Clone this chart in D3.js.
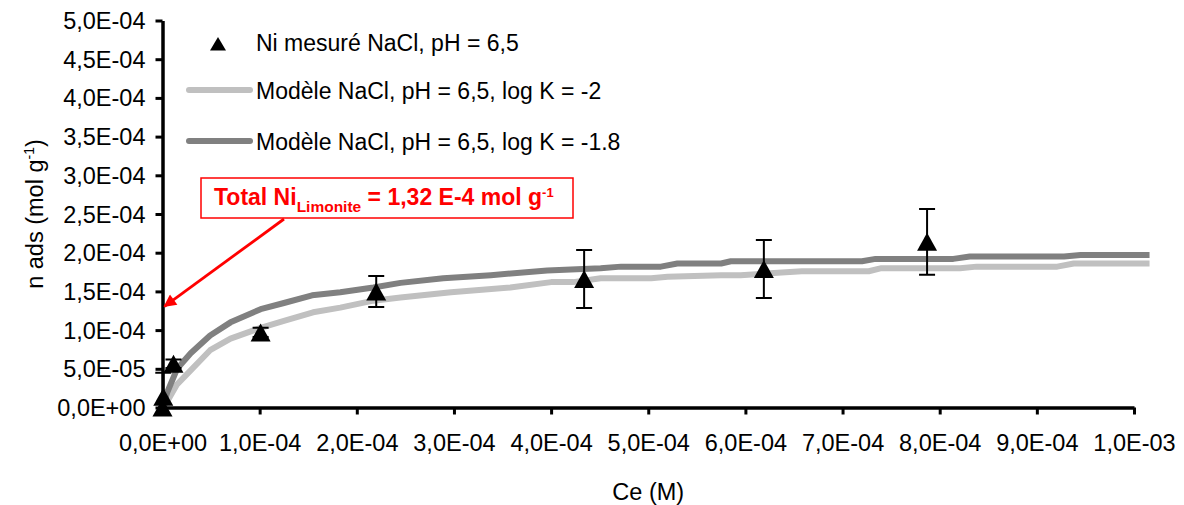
<!DOCTYPE html>
<html>
<head>
<meta charset="utf-8">
<script src="https://cdn.jsdelivr.net/npm/d3@7"></script>
<style>
  html, body { margin: 0; padding: 0; background: #fff; }
  svg { display: block; font-family: "Liberation Sans", Arial, sans-serif; }
</style>
</head>
<body>
<svg id="chart" width="1184" height="505"></svg>
<script>
// ---- data ----
const xTicks = [0, 1e-4, 2e-4, 3e-4, 4e-4, 5e-4, 6e-4, 7e-4, 8e-4, 9e-4, 1e-3];
const yTicks = [0, 5e-5, 1e-4, 1.5e-4, 2e-4, 2.5e-4, 3e-4, 3.5e-4, 4e-4, 4.5e-4, 5e-4];

// measured Ni (mol/g) vs Ce (M)
const measX   = [0, 0.008e-4, 0.113e-4, 1.01e-4, 2.20e-4, 4.34e-4, 6.19e-4, 7.87e-4];
const measY   = [0, 0.14e-4, 0.565e-4, 0.97e-4, 1.50e-4, 1.66e-4, 1.79e-4, 2.14e-4];
const measErr = [0, 0.31e-4, 0.055e-4, 0.06e-4, 0.20e-4, 0.375e-4, 0.375e-4, 0.425e-4];

// model log K = -2 (light grey)
const modelAX = [0, 0.05, 0.15, 0.29, 0.49, 0.70, 1.01, 1.25, 1.55, 1.83, 2.17, 2.45, 2.97, 3.58, 4.00, 4.23, 4.51, 5.03, 5.20, 5.75, 5.95, 6.58, 7.27, 7.40, 8.21, 8.38, 9.21, 9.38, 10.16].map(v => v * 1e-4);
const modelAY = [0, 0.08, 0.30, 0.48, 0.74, 0.89, 1.03, 1.12, 1.23, 1.29, 1.38, 1.42, 1.49, 1.55, 1.62, 1.62, 1.67, 1.67, 1.69, 1.71, 1.71, 1.76, 1.76, 1.80, 1.80, 1.82, 1.82, 1.86, 1.86].map(v => v * 1e-4);

// model log K = -1.8 (dark grey)
const modelBX = [0, 0.05, 0.15, 0.29, 0.49, 0.70, 1.01, 1.25, 1.54, 1.83, 2.17, 2.45, 2.89, 3.38, 3.96, 4.51, 4.72, 5.13, 5.30, 5.75, 5.85, 6.58, 7.20, 7.34, 8.14, 8.31, 9.28, 9.45, 10.16].map(v => v * 1e-4);
const modelBY = [0, 0.20, 0.50, 0.70, 0.93, 1.10, 1.27, 1.35, 1.45, 1.49, 1.55, 1.61, 1.67, 1.71, 1.77, 1.80, 1.82, 1.82, 1.86, 1.86, 1.89, 1.89, 1.89, 1.92, 1.92, 1.95, 1.95, 1.97, 1.97].map(v => v * 1e-4);

const legendLabels = ["Ni mesuré NaCl, pH = 6,5", "Modèle NaCl, pH = 6,5, log K = -2", "Modèle NaCl, pH = 6,5, log K = -1.8"];
const seriesColors = ["#000000", "#C0C0C0", "#808080"];
const xTitle = "Ce (M)";
const yTitle = "n ads (mol g";
const annotationMain = "Total Ni";
const annotationSub = "Limonite";
const annotationRest = " = 1,32 E-4 mol g";
const annotationSup = "-1";
const annotationValue = 1.32e-4;

// ---- layout ----
const svg = d3.select("#chart");
const x = d3.scaleLinear().domain([0, 1e-3]).range([162.5, 1134]);
const y = d3.scaleLinear().domain([0, 5e-4]).range([407.5, 20.5]);
const FS = 23.5;

function fmt(v) {
  if (v === 0) return "0,0E+00";
  const e = Math.floor(Math.log10(Math.abs(v)) + 1e-9);
  const m = v / Math.pow(10, e);
  const sign = e < 0 ? "-" : "+";
  const ae = Math.abs(e);
  return m.toFixed(1).replace(".", ",") + "E" + sign + (ae < 10 ? "0" + ae : ae);
}

const defs = svg.append("defs");
defs.append("clipPath").attr("id", "plotclip")
  .append("rect").attr("x", x(0) - 20).attr("y", y(5e-4)).attr("width", x(1e-3) - x(0) + 40).attr("height", y(0) - y(5e-4));

// model lines
const line = d3.line().x(d => x(d[0])).y(d => y(d[1]));
const dataA = modelAX.map((v, i) => [v, modelAY[i]]);
const dataB = modelBX.map((v, i) => [v, modelBY[i]]);
svg.append("path").datum(dataA).attr("d", line)
  .attr("fill", "none").attr("stroke", seriesColors[1]).attr("stroke-width", 6).attr("stroke-linejoin", "round");
svg.append("path").datum(dataB).attr("d", line)
  .attr("fill", "none").attr("stroke", seriesColors[2]).attr("stroke-width", 6).attr("stroke-linejoin", "round");

// axes
const xAxis = d3.axisBottom(x).tickValues(xTicks).tickFormat(fmt).tickSize(7).tickSizeOuter(0);
const gx = svg.append("g").attr("transform", `translate(0,${y(0)})`).call(xAxis);
const yAxis = d3.axisLeft(y).tickValues(yTicks).tickFormat(fmt).tickSize(7).tickSizeOuter(0);
const gy = svg.append("g").attr("transform", `translate(${x(0)},0)`).call(yAxis);

[gx, gy].forEach(g => {
  g.select(".domain").attr("stroke", "#000").attr("stroke-width", 3.5);
  g.selectAll(".tick line").attr("stroke", "#000").attr("stroke-width", 3);
  g.selectAll(".tick text").attr("font-size", FS).attr("fill", "#000")
    .attr("font-family", '"Liberation Sans", Arial, sans-serif');
});
gx.selectAll(".tick text").attr("y", 27).attr("dy", "0.71em");
gy.selectAll(".tick text").attr("x", -17).attr("dy", "0.34em");

// error bars
const eb = svg.append("g").attr("clip-path", "url(#plotclip)");
measX.forEach((mx, i) => {
  if (measErr[i] <= 0) return;
  const cx = x(mx), y1 = y(measY[i] + measErr[i]), y2 = y(measY[i] - measErr[i]);
  eb.append("line").attr("x1", cx).attr("x2", cx).attr("y1", y1).attr("y2", y2).attr("stroke", "#000").attr("stroke-width", 2);
  [y1, y2].forEach(yy => eb.append("line").attr("x1", cx - 8).attr("x2", cx + 8).attr("y1", yy).attr("y2", yy).attr("stroke", "#000").attr("stroke-width", 2));
});

// markers
const tri = "M0,-9L10,9L-10,9Z";
svg.append("g").selectAll("path").data(measX.map((v, i) => [v, measY[i]])).join("path")
  .attr("d", tri).attr("fill", "#000")
  .attr("transform", d => `translate(${x(d[0])},${y(d[1])})`);

// legend
const lg = svg.append("g");
const legY = [44, 90, 141];
lg.append("path").attr("d", "M0,-7L8,6.5L-8,6.5Z").attr("fill", "#000").attr("transform", `translate(218,${legY[0]})`);
[1, 2].forEach(i => {
  lg.append("line").attr("x1", 189).attr("x2", 250).attr("y1", legY[i]).attr("y2", legY[i])
    .attr("stroke", seriesColors[i]).attr("stroke-width", 6).attr("stroke-linecap", "round");
});
legendLabels.forEach((t, i) => {
  lg.append("text").attr("x", 256).attr("y", legY[i] + (i === 0 ? 7 : 9)).attr("font-size", 23).attr("fill", "#000").text(t);
});

// axis titles
svg.append("text").attr("x", (x(0) + x(1e-3)) / 2).attr("y", 500).attr("text-anchor", "middle")
  .attr("font-size", FS).attr("fill", "#000").text(xTitle);
const yt = svg.append("text").attr("transform", `translate(43,${(y(0) + y(5e-4)) / 2}) rotate(-90)`)
  .attr("text-anchor", "middle").attr("font-size", FS).attr("fill", "#000");
yt.append("tspan").text(yTitle);
yt.append("tspan").attr("font-size", 14).attr("dy", -9).text("-1");
yt.append("tspan").attr("dy", 9).text(")");

// annotation
const ann = svg.append("g");
ann.append("rect").attr("x", 201).attr("y", 178).attr("width", 372).attr("height", 40)
  .attr("fill", "#fff").attr("stroke", "#FF0000").attr("stroke-width", 1.5);
const at = ann.append("text").attr("x", 214).attr("y", 205).attr("fill", "#FF0000").attr("font-weight", "bold").attr("font-size", 23);
at.append("tspan").text(annotationMain);
at.append("tspan").attr("font-size", 15.5).attr("dy", 7).text(annotationSub);
at.append("tspan").attr("dy", -7).text(annotationRest);
at.append("tspan").attr("font-size", 13).attr("dy", -8).text(annotationSup);

// arrow pointing at the total Ni value on the y axis
defs.append("marker").attr("id", "arr").attr("viewBox", "0 0 10 10")
  .attr("refX", 9).attr("refY", 5).attr("markerWidth", 5.5).attr("markerHeight", 4.5)
  .attr("markerUnits", "strokeWidth").attr("orient", "auto")
  .append("path").attr("d", "M0,0L10,5L0,10Z").attr("fill", "#FF0000");
svg.append("line").attr("x1", 284).attr("y1", 219).attr("x2", x(0) + 2).attr("y2", y(annotationValue) + 1)
  .attr("stroke", "#FF0000").attr("stroke-width", 2.8).attr("marker-end", "url(#arr)");
</script>
</body>
</html>
